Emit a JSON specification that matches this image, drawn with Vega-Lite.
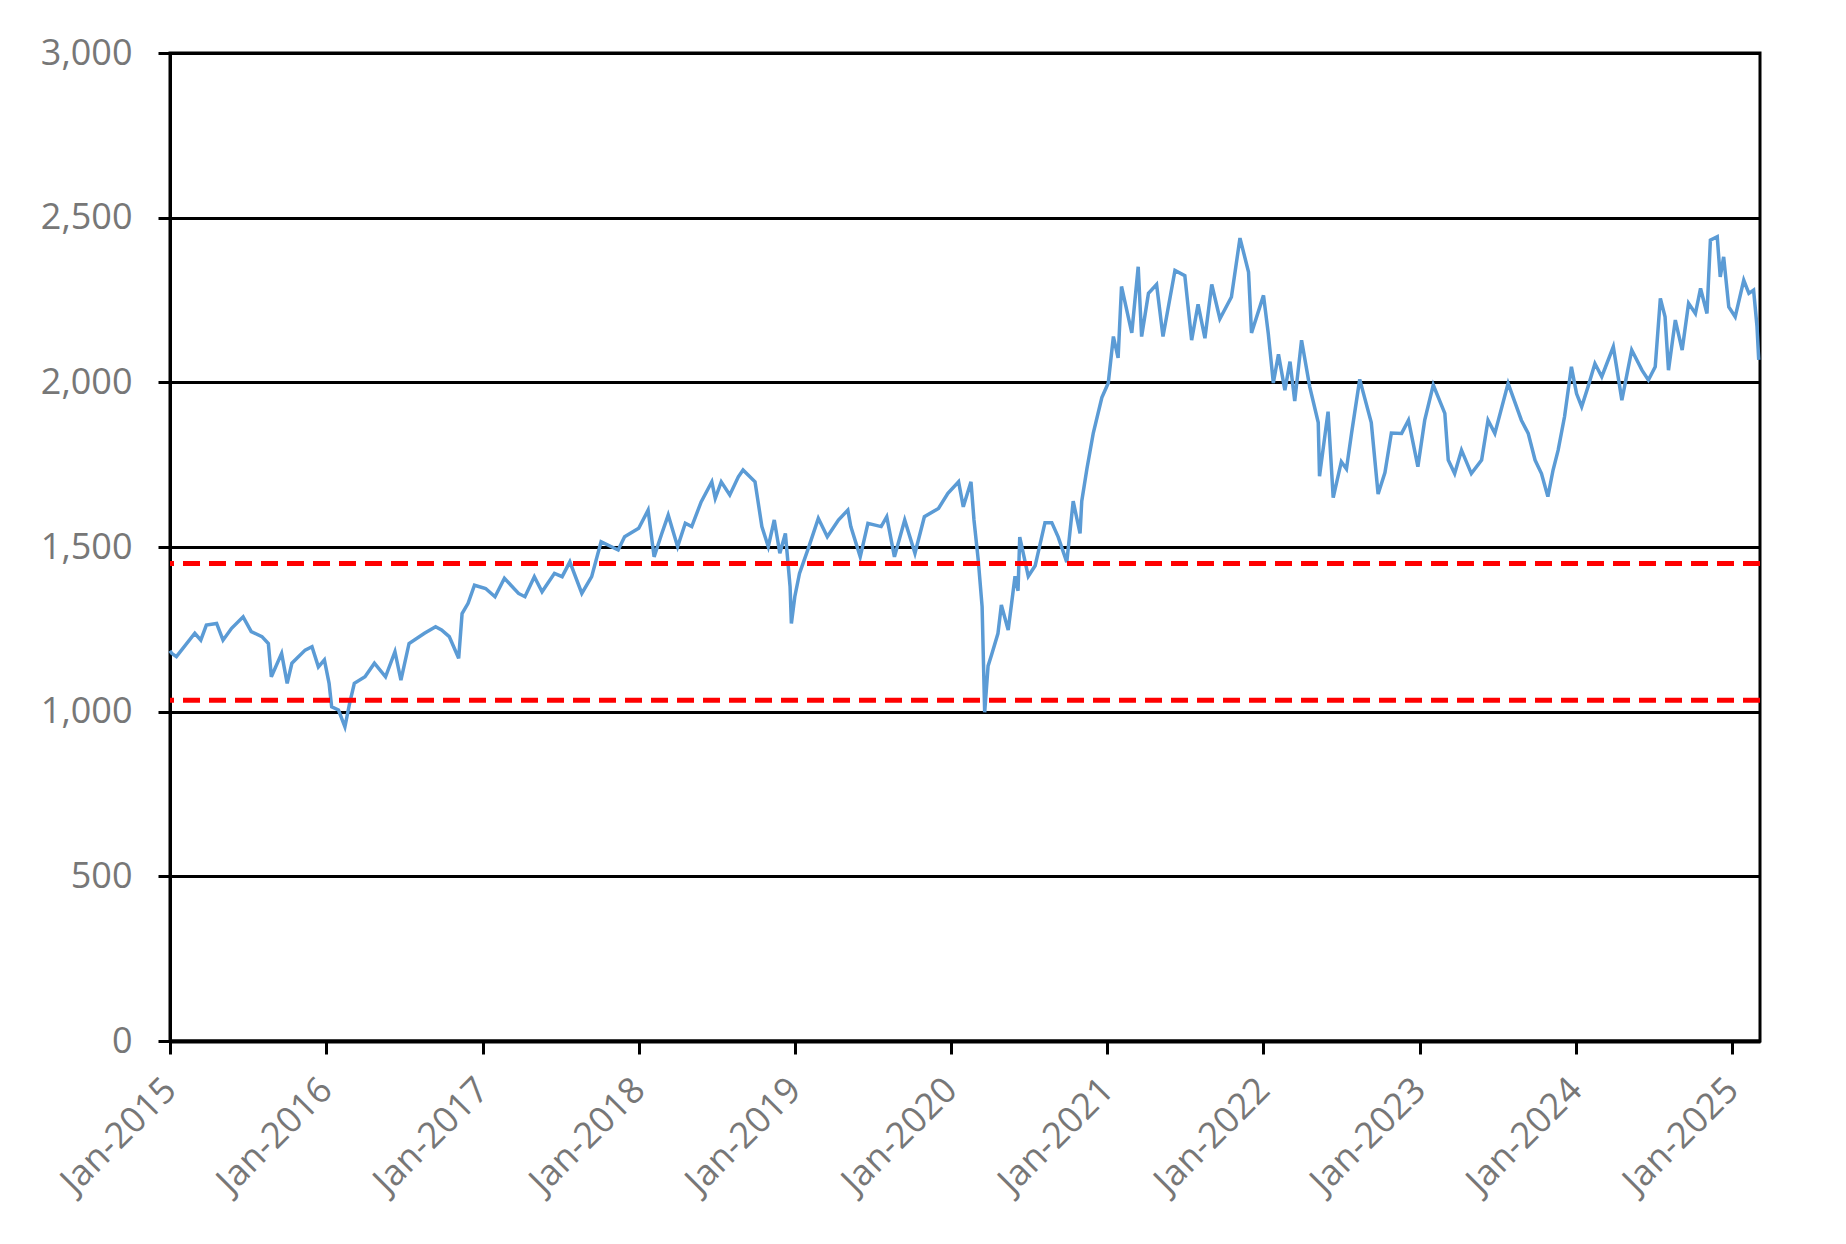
{
  "$schema": "https://vega.github.io/schema/vega-lite/v6.json",
  "width": 1590,
  "height": 988,
  "autosize": {"type": "none"},
  "padding": {"left": 170, "top": 53, "right": 86, "bottom": 203},
  "background": "white",
  "datasets": {
    "index": [
      {"date": "2015-01-01", "value": 1185},
      {"date": "2015-01-05", "value": 1177},
      {"date": "2015-01-16", "value": 1167},
      {"date": "2015-02-28", "value": 1238},
      {"date": "2015-03-14", "value": 1217},
      {"date": "2015-03-27", "value": 1263},
      {"date": "2015-04-20", "value": 1268},
      {"date": "2015-05-05", "value": 1217},
      {"date": "2015-05-25", "value": 1253},
      {"date": "2015-06-21", "value": 1288},
      {"date": "2015-07-10", "value": 1243},
      {"date": "2015-08-04", "value": 1228},
      {"date": "2015-08-19", "value": 1207},
      {"date": "2015-08-26", "value": 1106},
      {"date": "2015-09-19", "value": 1177},
      {"date": "2015-10-02", "value": 1086},
      {"date": "2015-10-13", "value": 1147},
      {"date": "2015-11-13", "value": 1187},
      {"date": "2015-11-29", "value": 1197},
      {"date": "2015-12-14", "value": 1136},
      {"date": "2015-12-28", "value": 1157},
      {"date": "2016-01-08", "value": 1086},
      {"date": "2016-01-14", "value": 1015},
      {"date": "2016-01-30", "value": 1005},
      {"date": "2016-02-14", "value": 954},
      {"date": "2016-02-25", "value": 1025},
      {"date": "2016-03-07", "value": 1086},
      {"date": "2016-04-01", "value": 1106},
      {"date": "2016-04-23", "value": 1147},
      {"date": "2016-05-19", "value": 1106},
      {"date": "2016-06-10", "value": 1182},
      {"date": "2016-06-24", "value": 1096},
      {"date": "2016-07-13", "value": 1207},
      {"date": "2016-08-18", "value": 1238},
      {"date": "2016-09-13", "value": 1258},
      {"date": "2016-09-27", "value": 1248},
      {"date": "2016-10-15", "value": 1228},
      {"date": "2016-11-06", "value": 1162},
      {"date": "2016-11-14", "value": 1298},
      {"date": "2016-11-28", "value": 1329},
      {"date": "2016-12-13", "value": 1384},
      {"date": "2017-01-08", "value": 1374},
      {"date": "2017-01-30", "value": 1349},
      {"date": "2017-02-21", "value": 1405},
      {"date": "2017-03-26", "value": 1359},
      {"date": "2017-04-10", "value": 1349},
      {"date": "2017-05-02", "value": 1410},
      {"date": "2017-05-20", "value": 1364},
      {"date": "2017-06-18", "value": 1420},
      {"date": "2017-07-06", "value": 1410},
      {"date": "2017-07-24", "value": 1455},
      {"date": "2017-08-21", "value": 1359},
      {"date": "2017-09-13", "value": 1410},
      {"date": "2017-10-05", "value": 1516},
      {"date": "2017-11-14", "value": 1491},
      {"date": "2017-11-29", "value": 1531},
      {"date": "2018-01-01", "value": 1557},
      {"date": "2018-01-23", "value": 1612},
      {"date": "2018-02-06", "value": 1470},
      {"date": "2018-02-24", "value": 1541},
      {"date": "2018-03-11", "value": 1597},
      {"date": "2018-04-02", "value": 1501},
      {"date": "2018-04-20", "value": 1572},
      {"date": "2018-05-05", "value": 1562},
      {"date": "2018-05-27", "value": 1637},
      {"date": "2018-06-21", "value": 1698},
      {"date": "2018-06-29", "value": 1648},
      {"date": "2018-07-13", "value": 1698},
      {"date": "2018-08-02", "value": 1658},
      {"date": "2018-08-22", "value": 1713},
      {"date": "2018-09-02", "value": 1734},
      {"date": "2018-09-30", "value": 1698},
      {"date": "2018-10-16", "value": 1562},
      {"date": "2018-10-31", "value": 1501},
      {"date": "2018-11-14", "value": 1582},
      {"date": "2018-11-27", "value": 1481},
      {"date": "2018-12-10", "value": 1541},
      {"date": "2018-12-21", "value": 1379},
      {"date": "2018-12-24", "value": 1268},
      {"date": "2019-01-01", "value": 1349},
      {"date": "2019-01-12", "value": 1420},
      {"date": "2019-02-03", "value": 1501},
      {"date": "2019-02-25", "value": 1587},
      {"date": "2019-03-18", "value": 1531},
      {"date": "2019-04-13", "value": 1582},
      {"date": "2019-05-05", "value": 1612},
      {"date": "2019-05-12", "value": 1562},
      {"date": "2019-06-03", "value": 1470},
      {"date": "2019-06-21", "value": 1572},
      {"date": "2019-07-22", "value": 1562},
      {"date": "2019-08-04", "value": 1592},
      {"date": "2019-08-22", "value": 1470},
      {"date": "2019-09-15", "value": 1582},
      {"date": "2019-10-09", "value": 1481},
      {"date": "2019-10-31", "value": 1592},
      {"date": "2019-12-03", "value": 1617},
      {"date": "2019-12-25", "value": 1663},
      {"date": "2020-01-19", "value": 1698},
      {"date": "2020-01-30", "value": 1622},
      {"date": "2020-02-17", "value": 1698},
      {"date": "2020-02-24", "value": 1582},
      {"date": "2020-03-05", "value": 1460},
      {"date": "2020-03-14", "value": 1319},
      {"date": "2020-03-20", "value": 998},
      {"date": "2020-03-28", "value": 1139},
      {"date": "2020-04-05", "value": 1172},
      {"date": "2020-04-20", "value": 1237},
      {"date": "2020-04-28", "value": 1324},
      {"date": "2020-05-14", "value": 1248},
      {"date": "2020-05-30", "value": 1411},
      {"date": "2020-06-06", "value": 1367},
      {"date": "2020-06-10", "value": 1530},
      {"date": "2020-06-30", "value": 1411},
      {"date": "2020-07-16", "value": 1443},
      {"date": "2020-08-08", "value": 1574},
      {"date": "2020-08-24", "value": 1574},
      {"date": "2020-09-08", "value": 1530},
      {"date": "2020-09-28", "value": 1454},
      {"date": "2020-10-13", "value": 1639},
      {"date": "2020-10-29", "value": 1541},
      {"date": "2020-11-02", "value": 1639},
      {"date": "2020-11-14", "value": 1737},
      {"date": "2020-11-29", "value": 1846},
      {"date": "2020-12-19", "value": 1954},
      {"date": "2021-01-03", "value": 1998},
      {"date": "2021-01-15", "value": 2139},
      {"date": "2021-01-26", "value": 2074},
      {"date": "2021-02-03", "value": 2291},
      {"date": "2021-02-27", "value": 2150},
      {"date": "2021-03-14", "value": 2351},
      {"date": "2021-03-22", "value": 2139},
      {"date": "2021-04-07", "value": 2270},
      {"date": "2021-04-26", "value": 2297},
      {"date": "2021-05-11", "value": 2139},
      {"date": "2021-06-08", "value": 2340},
      {"date": "2021-07-01", "value": 2324},
      {"date": "2021-07-17", "value": 2128},
      {"date": "2021-08-01", "value": 2237},
      {"date": "2021-08-17", "value": 2134},
      {"date": "2021-09-02", "value": 2297},
      {"date": "2021-09-21", "value": 2193},
      {"date": "2021-10-18", "value": 2259},
      {"date": "2021-11-07", "value": 2438},
      {"date": "2021-11-27", "value": 2335},
      {"date": "2021-12-04", "value": 2150},
      {"date": "2022-01-01", "value": 2264},
      {"date": "2022-01-12", "value": 2150},
      {"date": "2022-01-24", "value": 1998},
      {"date": "2022-02-05", "value": 2085},
      {"date": "2022-02-20", "value": 1976},
      {"date": "2022-03-04", "value": 2063},
      {"date": "2022-03-15", "value": 1943},
      {"date": "2022-03-31", "value": 2128},
      {"date": "2022-04-19", "value": 1987},
      {"date": "2022-05-09", "value": 1878},
      {"date": "2022-05-12", "value": 1715},
      {"date": "2022-06-01", "value": 1911},
      {"date": "2022-06-13", "value": 1650},
      {"date": "2022-07-02", "value": 1759},
      {"date": "2022-07-14", "value": 1737},
      {"date": "2022-07-26", "value": 1846},
      {"date": "2022-08-14", "value": 2009},
      {"date": "2022-09-10", "value": 1878},
      {"date": "2022-09-26", "value": 1661},
      {"date": "2022-10-12", "value": 1726},
      {"date": "2022-10-27", "value": 1846},
      {"date": "2022-11-20", "value": 1845},
      {"date": "2022-12-06", "value": 1885},
      {"date": "2022-12-28", "value": 1744},
      {"date": "2023-01-13", "value": 1885},
      {"date": "2023-02-02", "value": 1992},
      {"date": "2023-03-01", "value": 1906},
      {"date": "2023-03-09", "value": 1764},
      {"date": "2023-03-24", "value": 1723},
      {"date": "2023-04-09", "value": 1794},
      {"date": "2023-05-02", "value": 1723},
      {"date": "2023-05-26", "value": 1764},
      {"date": "2023-06-10", "value": 1885},
      {"date": "2023-06-26", "value": 1845},
      {"date": "2023-07-27", "value": 1997},
      {"date": "2023-08-27", "value": 1885},
      {"date": "2023-09-12", "value": 1845},
      {"date": "2023-09-28", "value": 1764},
      {"date": "2023-10-13", "value": 1723},
      {"date": "2023-10-28", "value": 1653},
      {"date": "2023-11-09", "value": 1733},
      {"date": "2023-11-21", "value": 1794},
      {"date": "2023-12-06", "value": 1896},
      {"date": "2023-12-22", "value": 2047},
      {"date": "2024-01-03", "value": 1966},
      {"date": "2024-01-15", "value": 1926},
      {"date": "2024-01-30", "value": 1987},
      {"date": "2024-02-15", "value": 2057},
      {"date": "2024-03-02", "value": 2017},
      {"date": "2024-03-29", "value": 2108},
      {"date": "2024-04-18", "value": 1946},
      {"date": "2024-05-11", "value": 2098},
      {"date": "2024-06-04", "value": 2037},
      {"date": "2024-06-19", "value": 2007},
      {"date": "2024-07-05", "value": 2047},
      {"date": "2024-07-17", "value": 2255},
      {"date": "2024-07-28", "value": 2199},
      {"date": "2024-08-05", "value": 2037},
      {"date": "2024-08-21", "value": 2189},
      {"date": "2024-09-06", "value": 2098},
      {"date": "2024-09-21", "value": 2240},
      {"date": "2024-10-07", "value": 2209},
      {"date": "2024-10-19", "value": 2285},
      {"date": "2024-11-03", "value": 2209},
      {"date": "2024-11-11", "value": 2432},
      {"date": "2024-11-27", "value": 2442},
      {"date": "2024-12-04", "value": 2320},
      {"date": "2024-12-12", "value": 2381},
      {"date": "2024-12-24", "value": 2229},
      {"date": "2025-01-08", "value": 2199},
      {"date": "2025-01-28", "value": 2310},
      {"date": "2025-02-09", "value": 2270},
      {"date": "2025-02-20", "value": 2280},
      {"date": "2025-02-28", "value": 2169},
      {"date": "2025-03-04", "value": 2068}
    ],
    "bands": [
      {"level": 1450},
      {"level": 1035}
    ]
  },
  "layer": [
    {
      "data": {"name": "index"},
      "mark": {"type": "line", "color": "#5B9BD5", "strokeWidth": 3.5},
      "encoding": {
        "x": {
          "field": "date",
          "type": "temporal",
          "scale": {
            "domain": [{"year": 2015, "month": 1, "date": 1}, {"year": 2025, "month": 3, "date": 7}],
            "nice": false
          },
          "axis": {
            "title": null,
            "grid": false,
            "values": [
              {"year": 2015, "month": 1, "date": 1},
              {"year": 2016, "month": 1, "date": 1},
              {"year": 2017, "month": 1, "date": 1},
              {"year": 2018, "month": 1, "date": 1},
              {"year": 2019, "month": 1, "date": 1},
              {"year": 2020, "month": 1, "date": 1},
              {"year": 2021, "month": 1, "date": 1},
              {"year": 2022, "month": 1, "date": 1},
              {"year": 2023, "month": 1, "date": 1},
              {"year": 2024, "month": 1, "date": 1},
              {"year": 2025, "month": 1, "date": 1}
            ],
            "format": "%b-%Y",
            "domainColor": "black",
            "domainWidth": 4,
            "tickColor": "black",
            "tickWidth": 3,
            "tickSize": 13,
            "labelAngle": -45,
            "labelAlign": "right",
            "labelBaseline": "middle",
            "labelFontSize": 36,
            "labelColor": "#777777",
            "labelPadding": 30,
            "labelOverlap": false,
            "labelFlush": false
          }
        },
        "y": {
          "field": "value",
          "type": "quantitative",
          "scale": {"domain": [0, 3000], "nice": false},
          "axis": {
            "title": null,
            "values": [0, 500, 1000, 1500, 2000, 2500, 3000],
            "format": ",d",
            "grid": true,
            "gridColor": "black",
            "gridWidth": 3,
            "gridOpacity": 1,
            "domainColor": "black",
            "domainWidth": 3,
            "tickColor": "black",
            "tickWidth": 3,
            "tickSize": 12,
            "labelFontSize": 36,
            "labelColor": "#777777",
            "labelPadding": 26
          }
        }
      }
    },
    {
      "data": {"name": "bands"},
      "mark": {"type": "rule", "color": "#FF0000", "strokeWidth": 5, "strokeDash": [17, 9]},
      "encoding": {
        "y": {"field": "level", "type": "quantitative"}
      }
    }
  ],
  "config": {
    "font": "Open Sans",
    "view": {"stroke": "black", "strokeWidth": 3}
  }
}
